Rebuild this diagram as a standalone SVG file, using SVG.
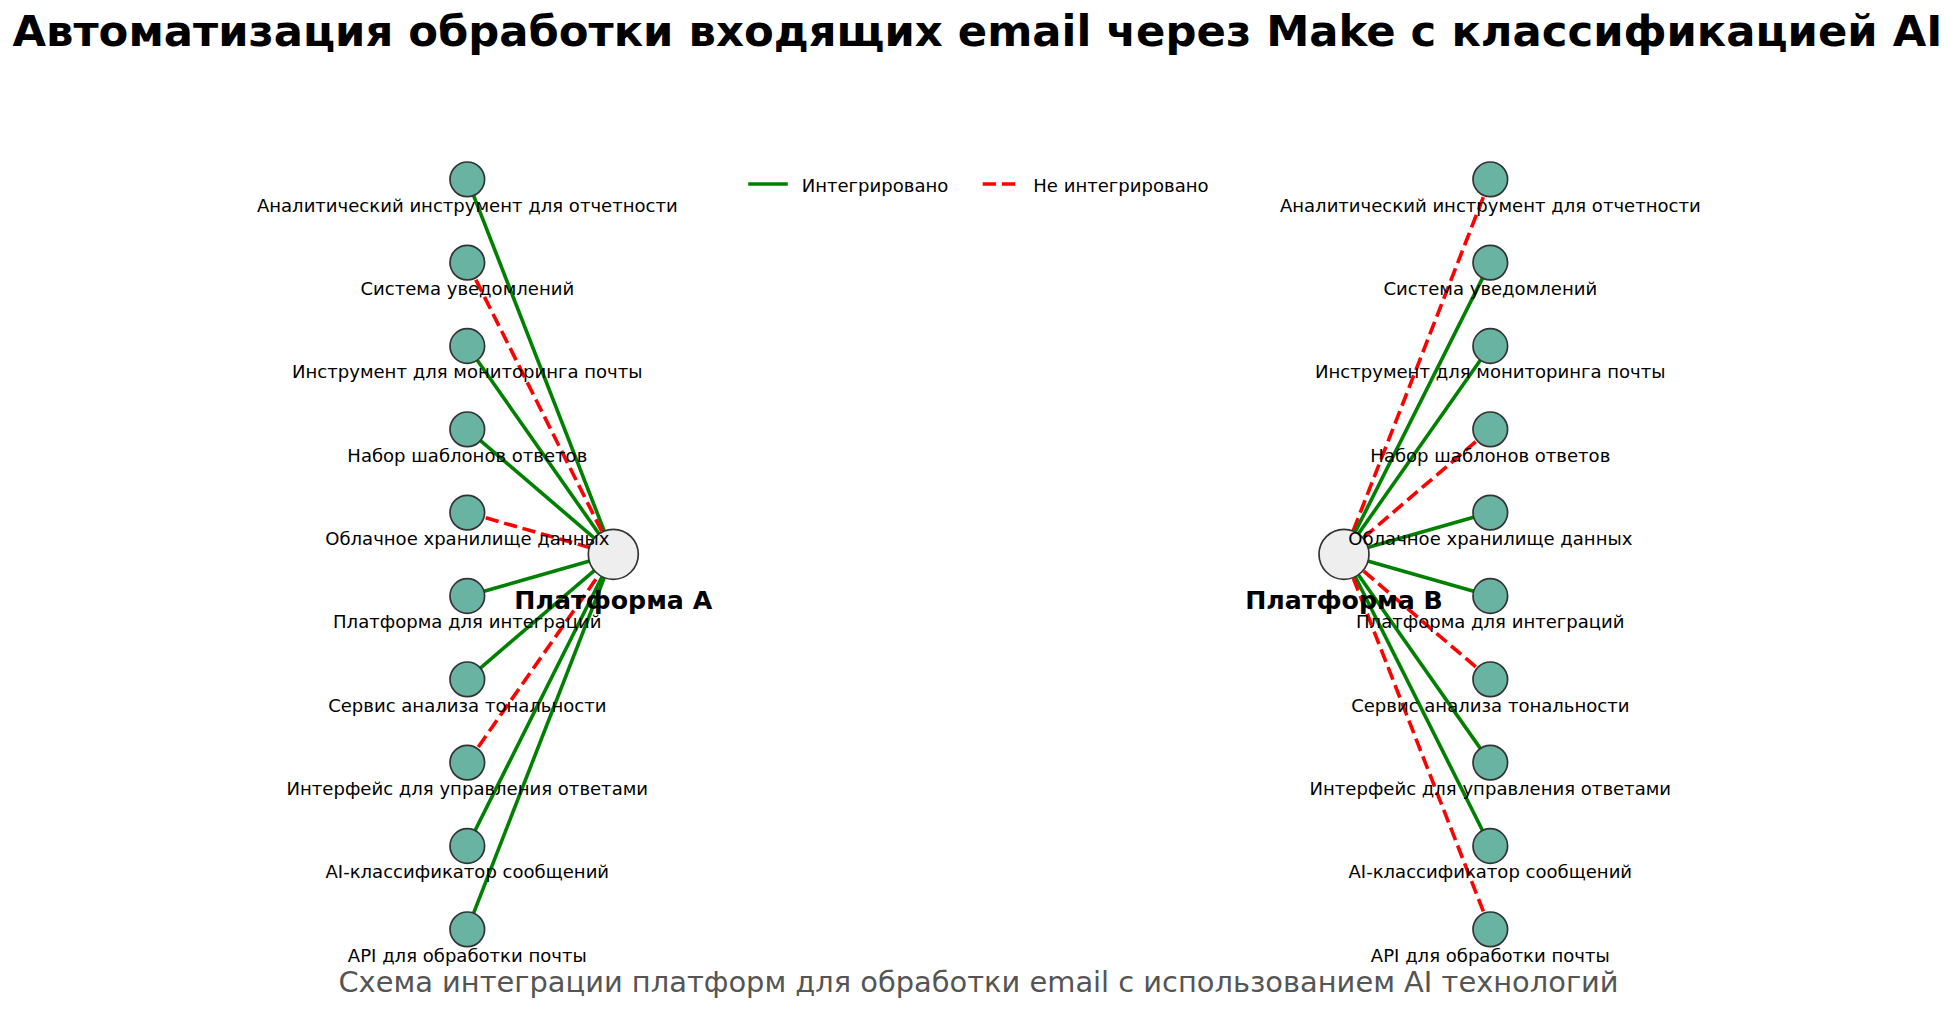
<svg xmlns="http://www.w3.org/2000/svg" width="1957" height="1036" viewBox="0 0 1957 1036">
<style>
text{font-family:"DejaVu Sans","Liberation Sans",sans-serif}
.title{font-size:43.33px;font-weight:bold;fill:#000}
.sub{font-size:28.89px;fill:#555555}
.lbl{font-size:18.06px;fill:#000;text-anchor:middle}
.plat{font-size:25.28px;font-weight:bold;fill:#000;text-anchor:middle}
.leg{font-size:18.06px;fill:#000}
.ok{stroke:#008000;stroke-width:3.61;fill:none}
.no{stroke:#ff0000;stroke-width:3.61;stroke-dasharray:13.36 5.78;fill:none}
.n{fill:#69b3a2;stroke:#333333;stroke-width:1.7}
.p{fill:#eeeeee;stroke:#333333;stroke-width:1.7}
</style>
<text class="title" x="977.5" y="46" text-anchor="middle">Автоматизация обработки входящих email через Make с классификацией AI</text>
<g id="legend">
<line class="ok" x1="750" y1="184" x2="786" y2="184" stroke-linecap="square"/>
<text class="leg" x="801.7" y="191.7">Интегрировано</text>
<line class="no" x1="982.7" y1="184" x2="1018.7" y2="184"/>
<text class="leg" x="1033.3" y="191.7">Не интегрировано</text>
</g>
<g id="connectors">
<line class="ok" x1="467.3" y1="179.3" x2="613.3" y2="554.3"/>
<line class="no" x1="467.3" y1="262.6" x2="613.3" y2="554.3"/>
<line class="ok" x1="467.3" y1="346" x2="613.3" y2="554.3"/>
<line class="ok" x1="467.3" y1="429.3" x2="613.3" y2="554.3"/>
<line class="no" x1="467.3" y1="512.6" x2="613.3" y2="554.3"/>
<line class="ok" x1="467.3" y1="596" x2="613.3" y2="554.3"/>
<line class="ok" x1="467.3" y1="679.3" x2="613.3" y2="554.3"/>
<line class="no" x1="467.3" y1="762.6" x2="613.3" y2="554.3"/>
<line class="ok" x1="467.3" y1="846" x2="613.3" y2="554.3"/>
<line class="ok" x1="467.3" y1="929.3" x2="613.3" y2="554.3"/>
<line class="no" x1="1490.3" y1="179.3" x2="1344" y2="554.3"/>
<line class="ok" x1="1490.3" y1="262.6" x2="1344" y2="554.3"/>
<line class="ok" x1="1490.3" y1="346" x2="1344" y2="554.3"/>
<line class="no" x1="1490.3" y1="429.3" x2="1344" y2="554.3"/>
<line class="ok" x1="1490.3" y1="512.6" x2="1344" y2="554.3"/>
<line class="ok" x1="1490.3" y1="596" x2="1344" y2="554.3"/>
<line class="no" x1="1490.3" y1="679.3" x2="1344" y2="554.3"/>
<line class="ok" x1="1490.3" y1="762.6" x2="1344" y2="554.3"/>
<line class="ok" x1="1490.3" y1="846" x2="1344" y2="554.3"/>
<line class="no" x1="1490.3" y1="929.3" x2="1344" y2="554.3"/>
</g>
<g id="platformA"><circle class="p" cx="613.3" cy="554.3" r="25"/></g>
<g id="platformB"><circle class="p" cx="1344" cy="554.3" r="25"/></g>
<g id="a0"><circle class="n" cx="467.3" cy="179.3" r="17.3"/></g>
<g id="a1"><circle class="n" cx="467.3" cy="262.6" r="17.3"/></g>
<g id="a2"><circle class="n" cx="467.3" cy="346" r="17.3"/></g>
<g id="a3"><circle class="n" cx="467.3" cy="429.3" r="17.3"/></g>
<g id="a4"><circle class="n" cx="467.3" cy="512.6" r="17.3"/></g>
<g id="a5"><circle class="n" cx="467.3" cy="596" r="17.3"/></g>
<g id="a6"><circle class="n" cx="467.3" cy="679.3" r="17.3"/></g>
<g id="a7"><circle class="n" cx="467.3" cy="762.6" r="17.3"/></g>
<g id="a8"><circle class="n" cx="467.3" cy="846" r="17.3"/></g>
<g id="a9"><circle class="n" cx="467.3" cy="929.3" r="17.3"/></g>
<g id="b0"><circle class="n" cx="1490.3" cy="179.3" r="17.3"/></g>
<g id="b1"><circle class="n" cx="1490.3" cy="262.6" r="17.3"/></g>
<g id="b2"><circle class="n" cx="1490.3" cy="346" r="17.3"/></g>
<g id="b3"><circle class="n" cx="1490.3" cy="429.3" r="17.3"/></g>
<g id="b4"><circle class="n" cx="1490.3" cy="512.6" r="17.3"/></g>
<g id="b5"><circle class="n" cx="1490.3" cy="596" r="17.3"/></g>
<g id="b6"><circle class="n" cx="1490.3" cy="679.3" r="17.3"/></g>
<g id="b7"><circle class="n" cx="1490.3" cy="762.6" r="17.3"/></g>
<g id="b8"><circle class="n" cx="1490.3" cy="846" r="17.3"/></g>
<g id="b9"><circle class="n" cx="1490.3" cy="929.3" r="17.3"/></g>
<g id="labels">
<text class="lbl" x="467.3" y="211.7">Аналитический инструмент для отчетности</text>
<text class="lbl" x="467.3" y="295">Система уведомлений</text>
<text class="lbl" x="467.3" y="378.4">Инструмент для мониторинга почты</text>
<text class="lbl" x="467.3" y="461.7">Набор шаблонов ответов</text>
<text class="lbl" x="467.3" y="545">Облачное хранилище данных</text>
<text class="lbl" x="467.3" y="628.4">Платформа для интеграций</text>
<text class="lbl" x="467.3" y="711.7">Сервис анализа тональности</text>
<text class="lbl" x="467.3" y="795">Интерфейс для управления ответами</text>
<text class="lbl" x="467.3" y="878.4">AI-классификатор сообщений</text>
<text class="lbl" x="467.3" y="961.7">API для обработки почты</text>
<text class="lbl" x="1490.3" y="211.7">Аналитический инструмент для отчетности</text>
<text class="lbl" x="1490.3" y="295">Система уведомлений</text>
<text class="lbl" x="1490.3" y="378.4">Инструмент для мониторинга почты</text>
<text class="lbl" x="1490.3" y="461.7">Набор шаблонов ответов</text>
<text class="lbl" x="1490.3" y="545">Облачное хранилище данных</text>
<text class="lbl" x="1490.3" y="628.4">Платформа для интеграций</text>
<text class="lbl" x="1490.3" y="711.7">Сервис анализа тональности</text>
<text class="lbl" x="1490.3" y="795">Интерфейс для управления ответами</text>
<text class="lbl" x="1490.3" y="878.4">AI-классификатор сообщений</text>
<text class="lbl" x="1490.3" y="961.7">API для обработки почты</text>
<text class="plat" x="613.3" y="609">Платформа A</text>
<text class="plat" x="1344" y="609">Платформа B</text>
</g>
<text class="sub" x="978.5" y="991.7" text-anchor="middle">Схема интеграции платформ для обработки email с использованием AI технологий</text>
</svg>
